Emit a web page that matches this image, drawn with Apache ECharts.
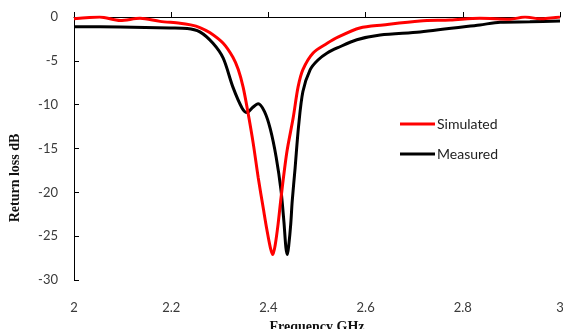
<!DOCTYPE html>
<html>
<head>
<meta charset="utf-8">
<script src="https://cdn.jsdelivr.net/npm/echarts@6/dist/echarts.min.js"></script>
<style>
  html, body { margin: 0; padding: 0; background: #fff; }
  #chart { width: 563px; height: 329px; }
</style>
</head>
<body>
<div id="chart"></div>
<script>
// Return loss (dB) versus frequency (GHz)
const simFreq = [2.000, 2.053, 2.095, 2.136, 2.177, 2.218, 2.240, 2.259, 2.280, 2.307, 2.327, 2.338, 2.348,
                 2.358, 2.369, 2.379, 2.390, 2.397, 2.404, 2.409, 2.414, 2.420, 2.426, 2.438, 2.451, 2.461,
                 2.471, 2.492, 2.521, 2.543, 2.588, 2.636, 2.712, 2.774, 2.835, 2.897, 2.928, 2.959, 3.000];
const simDb = [-0.2, 0.0, -0.4, -0.15, -0.5, -0.7, -0.9, -1.2, -1.8, -3.0, -4.6, -6.0, -8.0,
               -10.9, -14.5, -18.3, -22.0, -24.3, -26.3, -27.1, -26.0, -23.6, -20.6, -15.4, -11.5, -8.0,
               -6.0, -4.1, -3.0, -2.3, -1.25, -0.9, -0.45, -0.35, -0.15, -0.25, 0.0, -0.2, 0.0];

const measFreq = [2.000, 2.095, 2.198, 2.233, 2.259, 2.286, 2.307, 2.327, 2.346, 2.356, 2.368, 2.379, 2.392,
                  2.404, 2.416, 2.426, 2.432, 2.436, 2.439, 2.442, 2.446, 2.449, 2.455, 2.462, 2.471, 2.486,
                  2.502, 2.521, 2.543, 2.582, 2.630, 2.712, 2.835, 2.877, 2.938, 3.000];
const measDb = [-1.1, -1.15, -1.25, -1.3, -1.7, -3.0, -4.7, -8.0, -10.4, -10.9, -10.3, -9.9, -10.8,
                -12.8, -16.0, -19.8, -23.4, -26.3, -27.1, -26.0, -23.6, -21.0, -17.2, -12.5, -8.5, -6.0,
                -4.9, -4.1, -3.5, -2.6, -2.05, -1.7, -0.9, -0.6, -0.55, -0.45];

const xTicks = { min: 2, max: 3, step: 0.2 };
const yTicks = { min: -30, max: 0, step: 5 };

const pairs = (xs, ys) => xs.map((x, i) => [x, ys[i]]);

const chart = echarts.init(document.getElementById('chart'));
const labelFont = { color: '#3a3a3a', fontFamily: 'Lato', fontSize: 13 };

chart.setOption({
  animation: false,
  grid: { left: 74, right: 3, top: 17, bottom: 49, containLabel: false, outerBoundsMode: 'none' },
  xAxis: {
    type: 'value',
    min: xTicks.min, max: xTicks.max, interval: xTicks.step,
    name: 'Frequency GHz',
    nameLocation: 'middle',
    nameGap: 40,
    nameTextStyle: { fontFamily: 'Liberation Serif', fontWeight: 'bold', fontSize: 14, color: '#111' },
    axisLine: { lineStyle: { color: '#000', width: 1 } },
    axisTick: { inside: true, length: 5, lineStyle: { color: '#000' } },
    axisLabel: Object.assign({ margin: 21, formatter: v => String(+v.toFixed(1)) }, labelFont),
    splitLine: { show: false }
  },
  yAxis: {
    type: 'value',
    min: yTicks.min, max: yTicks.max, interval: yTicks.step,
    axisLine: { show: true, lineStyle: { color: '#000', width: 1 } },
    axisTick: { show: true, inside: true, length: 5, lineStyle: { color: '#000' } },
    axisLabel: Object.assign({ margin: 16 }, labelFont),
    splitLine: { show: false }
  },
  graphic: [{
    type: 'text',
    x: 15, y: 178,
    rotation: Math.PI / 2,
    style: {
      text: 'Return loss dB',
      font: 'bold 14px "Liberation Serif"',
      fill: '#111',
      align: 'center',
      verticalAlign: 'middle'
    }
  }],
  legend: {
    orient: 'vertical',
    left: 395, top: 112,
    icon: 'rect',
    itemWidth: 35, itemHeight: 3, itemGap: 16,
    textStyle: { fontFamily: 'Lato', fontSize: 14, color: '#222', padding: [0, 0, 0, -3] },
    data: ['Simulated', 'Measured']
  },
  series: [
    {
      name: 'Simulated', type: 'line', data: pairs(simFreq, simDb),
      smooth: 0.3, symbol: 'none',
      lineStyle: { color: '#ff0000', width: 3 }, itemStyle: { color: '#ff0000' }, z: 3
    },
    {
      name: 'Measured', type: 'line', data: pairs(measFreq, measDb),
      smooth: 0.3, symbol: 'none',
      lineStyle: { color: '#000', width: 3 }, itemStyle: { color: '#000' }, z: 2
    }
  ]
});
</script>
</body>
</html>
